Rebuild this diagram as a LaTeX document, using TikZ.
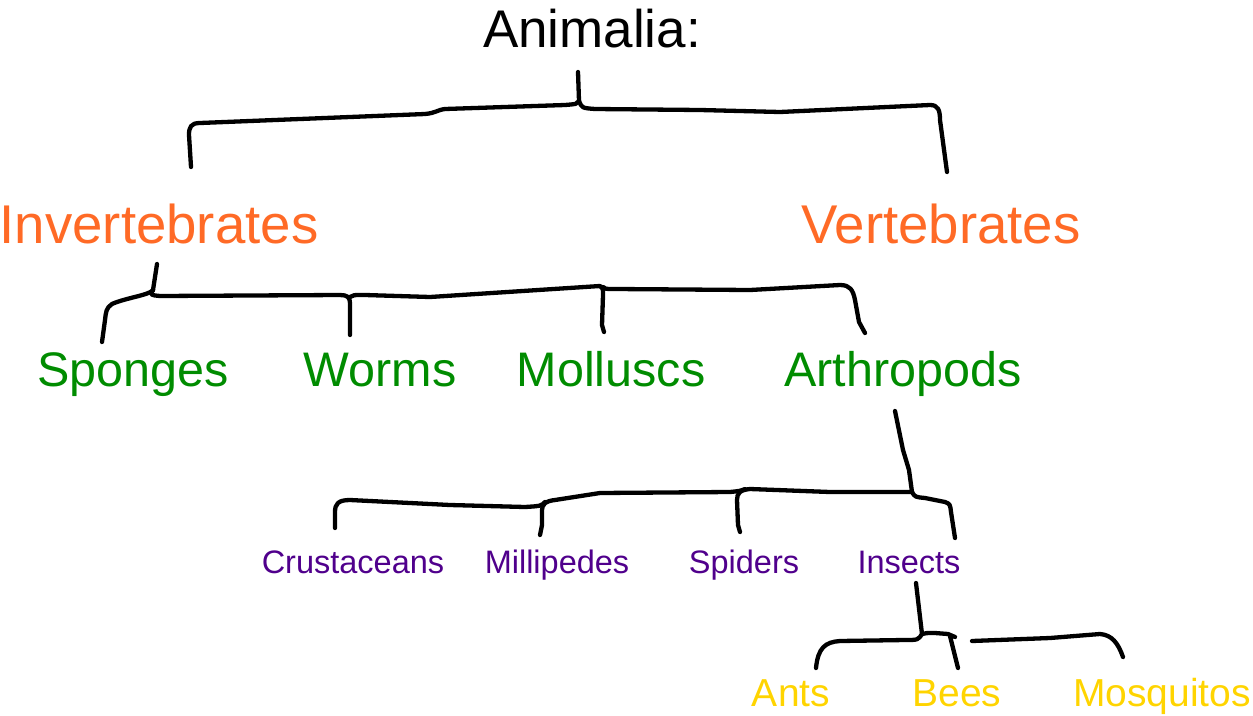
\documentclass[tikz,border=0pt]{standalone}
\usepackage{fontspec}
\setmainfont{Liberation Sans}
\definecolor{orng}{RGB}{255,106,38}
\definecolor{grn}{RGB}{0,140,0}
\definecolor{purp}{RGB}{80,0,140}
\definecolor{yel}{RGB}{255,212,0}
\begin{document}
\begin{tikzpicture}[x=1pt,y=-1pt,
  lbl/.style={anchor=base,inner sep=0pt},
  lvlA/.style={lbl,font=\fontsize{53}{60}\selectfont},
  lvlB/.style={lbl,text=orng,font=\fontsize{54.6}{60}\selectfont},
  lvlC/.style={lbl,text=grn,font=\fontsize{48.5}{54}\selectfont},
  lvlD/.style={lbl,text=purp,font=\fontsize{32.5}{38}\selectfont},
  lvlE/.style={lbl,text=yel,font=\fontsize{39}{44}\selectfont},
  brk/.style={draw=black,line width=4.3pt,line cap=round,line join=round}]
\useasboundingbox (0,0) rectangle (1253,715);
\node[lvlA] (ani) at (592,47) {Animalia:};
\node[lvlB] (inv) at (159,243) {Invertebrates};
\node[lvlB] (ver) at (941,243) {Vertebrates};
\node[lvlC] (spo) at (133,386) {Sponges};
\node[lvlC] (wor) at (380,386) {Worms};
\node[lvlC] (mol) at (611,386) {Molluscs};
\node[lvlC] (art) at (903,386) {Arthropods};
\node[lvlD] (cru) at (353,573) {Crustaceans};
\node[lvlD] (mil) at (557,573) {Millipedes};
\node[lvlD] (spi) at (744,573) {Spiders};
\node[lvlD] (ins) at (909,573) {Insects};
\node[lvlE] (ant) at (791,706) {Ants};
\node[lvlE] (bee) at (957,706) {Bees};
\node[lvlE] (mos) at (1162,706) {Mosquitos};
% junction coordinates
\coordinate (j1) at (579,101);
\coordinate (j2) at (153,290);
\coordinate (j3) at (912,492);
\coordinate (j4) at (922,634);
% Animalia bracket
\draw[brk] (578,72) -- (j1);
\draw[brk] (j1) .. controls (577,104) .. (565,105) -- (445,109) .. controls (437,110) and (436,113) .. (425,114) -- (200,123) .. controls (191,123) and (189,127) .. (189,135) -- (191,167);
\draw[brk] (j1) .. controls (582,108) .. (595,109) -- (700,110) -- (780,112) -- (930,105) .. controls (938,105) and (940,110) .. (940,120) -- (947,172);
% Invertebrates bracket
\draw[brk] (157,264) -- (j2);
\draw[brk] (j2) .. controls (150,295) and (125,298) .. (112,304) .. controls (106,308) and (106,312) .. (105,320) -- (102,342);
\draw[brk] (j2) .. controls (150,295) .. (160,296) -- (340,295) .. controls (347,295) and (350,297) .. (350,303) -- (350,335);
\draw[brk] (350,297) .. controls (353,295) .. (365,295) -- (430,297) -- (600,286) .. controls (603,288) .. (603,295) -- (602,325) -- (604,332);
\draw[brk] (603,287) .. controls (605,289) .. (615,289) -- (750,290) -- (840,285) .. controls (850,285) and (853,290) .. (855,300) -- (859,322) -- (865,333);
% Arthropods bracket
\draw[brk] (895,411) -- (903,450) -- (909,470) -- (j3);
\draw[brk] (j3) -- (830,492) -- (750,489) .. controls (740,490) and (737,493) .. (737,500) -- (738,525) -- (740,532);
\draw[brk] (745,489) .. controls (740,491) .. (730,492) -- (600,493) -- (555,500) .. controls (545,501) and (542,505) .. (542,510) -- (542,525) -- (540,535);
\draw[brk] (545,502) .. controls (541,506) .. (525,507) -- (450,505) -- (350,500) .. controls (338,500) and (335,504) .. (335,512) -- (335,528);
\draw[brk] (j3) .. controls (915,497) .. (925,498) -- (945,502) .. controls (950,504) .. (951,512) -- (955,538);
% Insects bracket
\draw[brk] (916,583) -- (j4);
\draw[brk] (j4) .. controls (918,640) .. (905,640) -- (840,641) .. controls (825,642) and (818,648) .. (816,668);
\draw[brk] (j4) .. controls (926,633) .. (935,633) -- (948,634) -- (955,637);
\draw[brk] (950,636) -- (958,668);
\draw[brk] (972,641) -- (1050,638) -- (1100,634) .. controls (1112,635) and (1118,643) .. (1123,657);
\end{tikzpicture}
\end{document}
